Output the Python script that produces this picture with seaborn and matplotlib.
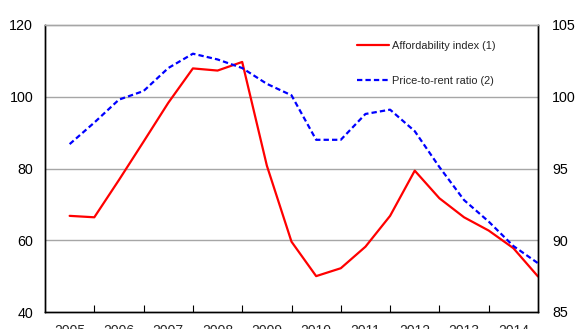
import matplotlib
matplotlib.use("Agg")
import matplotlib.pyplot as plt
from matplotlib.ticker import FixedLocator, NullFormatter
import seaborn as sns
import pandas as pd

# Half-yearly observations, 2005H1 .. 2014H2
years = [str(y) for y in range(2005, 2015)]
affordability = [66.8, 66.4, 76.8, 87.5, 98.3, 107.9, 107.3, 109.7, 80.8, 59.6,
                 50.0, 52.2, 58.2, 66.8, 79.4, 71.7, 66.4, 62.7, 57.8, 49.9]
price_to_rent = [96.7, 98.2, 99.8, 100.4, 102.0, 103.0, 102.6, 102.0, 100.9, 100.1,
                 97.0, 97.0, 98.8, 99.1, 97.6, 95.1, 92.8, 91.3, 89.6, 88.4]

df = pd.DataFrame({
    "t": range(len(affordability)),
    "affordability": affordability,
    "price_to_rent": price_to_rent,
})

sns.set_theme(style="white")
plt.rcParams["font.family"] = ["Liberation Sans", "DejaVu Sans"]

fig = plt.figure(figsize=(5.76, 3.29), dpi=100)
ax = fig.add_axes([45 / 576, 17 / 329, 493 / 576, 287 / 329])
ax2 = ax.twinx()

sns.lineplot(data=df, x="t", y="affordability", ax=ax, color="#ff0000",
             linewidth=1.6, label="Affordability index (1)", legend=False)
sns.lineplot(data=df, x="t", y="price_to_rent", ax=ax2, color="#0000ff",
             linewidth=1.6, label="Price-to-rent ratio (2)", legend=False)
ax2.lines[0].set_dashes((2.4, 1.4))

ax.set_xlim(-1, len(affordability) - 1)
ax.set_ylim(40, 120)
ax2.set_ylim(85, 105)
ax.set_yticks([40, 60, 80, 100, 120])
ax2.set_yticks([85, 90, 95, 100, 105])
ax.set_xlabel("")
ax.set_ylabel("")
ax2.set_ylabel("")

# Year labels sit on the first half of each year; longer ticks mark year ends
ax.set_xticks(range(0, 20, 2))
ax.set_xticklabels(years)
ax.xaxis.set_minor_locator(FixedLocator(list(range(1, 19, 2))))
ax.xaxis.set_minor_formatter(NullFormatter())
ax.tick_params(axis="x", which="major", direction="in", length=3.5, width=0.8,
               color="black", pad=8.5, labelsize=10)
ax.tick_params(axis="x", which="minor", direction="in", length=5, width=0.8,
               color="black", bottom=True)
ax.tick_params(axis="y", length=0, pad=8.5, labelsize=10.3, labelcolor="black")
ax2.tick_params(axis="y", length=0, pad=10, labelsize=10.3, labelcolor="black")
ax2.tick_params(axis="x", which="both", bottom=False, top=False)

for v in [60, 80, 100]:
    ax.axhline(v, color="#a6a6a6", linewidth=1.0, zorder=0)

for a in (ax, ax2):
    for side in ("left", "right", "bottom"):
        a.spines[side].set_color("black")
        a.spines[side].set_linewidth(1.0)
    a.spines["top"].set_color("#a6a6a6")
    a.spines["top"].set_linewidth(1.0)

handles = ax.get_lines()[:1] + ax2.get_lines()[:1]
leg = ax2.legend(handles, [h.get_label() for h in handles], loc="upper left",
                 bbox_to_anchor=(0.632, 0.945), frameon=False, fontsize=7.9,
                 handlelength=3.0, handletextpad=0.2, labelspacing=2.3,
                 borderpad=0, borderaxespad=0)

fig.savefig("out.png", dpi=100)
